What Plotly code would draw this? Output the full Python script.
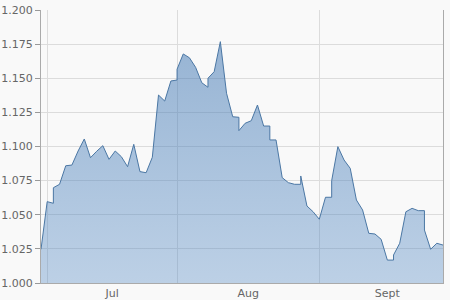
import numpy as np
import plotly.graph_objects as go

# Daily observations (weekend entries carry the value shown just before Monday)
dates = [
    "2016-06-30", "2016-07-01", "2016-07-03", "2016-07-04", "2016-07-05", "2016-07-06",
    "2016-07-07", "2016-07-08", "2016-07-11", "2016-07-12", "2016-07-13", "2016-07-14",
    "2016-07-15", "2016-07-18", "2016-07-19", "2016-07-20", "2016-07-21", "2016-07-22",
    "2016-07-25", "2016-07-26", "2016-07-27", "2016-07-28", "2016-07-29", "2016-07-31",
    "2016-08-01", "2016-08-02", "2016-08-03", "2016-08-04", "2016-08-05", "2016-08-07",
    "2016-08-08", "2016-08-09", "2016-08-10", "2016-08-11", "2016-08-12", "2016-08-14",
    "2016-08-15", "2016-08-16", "2016-08-17", "2016-08-18", "2016-08-19", "2016-08-21",
    "2016-08-22", "2016-08-23", "2016-08-24", "2016-08-25", "2016-08-26", "2016-08-28",
    "2016-08-29", "2016-08-30", "2016-08-31", "2016-09-01", "2016-09-02", "2016-09-04",
    "2016-09-05", "2016-09-06", "2016-09-07", "2016-09-08", "2016-09-09", "2016-09-12",
    "2016-09-13", "2016-09-14", "2016-09-15", "2016-09-16", "2016-09-18", "2016-09-19",
    "2016-09-20", "2016-09-21", "2016-09-22", "2016-09-23", "2016-09-25", "2016-09-26",
    "2016-09-27", "2016-09-28", "2016-09-29",
]
values = [
    1.0247, 1.0596, 1.0584, 1.0698, 1.0723, 1.0859,
    1.0864, 1.0967, 1.1055, 1.0918, 1.0965, 1.1006,
    1.0906, 1.0967, 1.0925, 1.0852, 1.1016, 1.0816,
    1.0808, 1.0921, 1.1377, 1.1333, 1.1480, 1.1487,
    1.1566, 1.1678, 1.1650, 1.1580, 1.1467, 1.1434,
    1.1500, 1.1548, 1.1768, 1.1390, 1.1218, 1.1214,
    1.1116, 1.1170, 1.1189, 1.1304, 1.1150, 1.1150,
    1.1048, 1.1048, 1.0772, 1.0735, 1.0723, 1.0723,
    1.0784, 1.0564, 1.0522, 1.0467, 1.0628, 1.0628,
    1.0750, 1.0999, 1.0901, 1.0840, 1.0608, 1.0535,
    1.0364, 1.0359, 1.0320, 1.0168, 1.0168, 1.0205,
    1.0291, 1.0522, 1.0547, 1.0530, 1.0530, 1.0388,
    1.0247, 1.0291, 1.0278,
]
month_bounds = ["2016-07-01", "2016-08-01", "2016-09-01", "2016-10-01"]
month_labels = ["Jul", "Aug", "Sept"]
y_ticks = [1.000, 1.025, 1.050, 1.075, 1.100, 1.125, 1.150, 1.175, 1.200]

start = np.datetime64(dates[0], "D")
x = np.busday_count(start, np.array(dates, dtype="datetime64[D]"))
bounds = np.busday_count(start, np.array(month_bounds, dtype="datetime64[D]"))
label_pos = [(bounds[i] + bounds[i + 1]) / 2 for i in range(len(month_labels))]
grid_pos = list(bounds[:-1])

bg = "#f9f9f9"
grid = "#dcdcdc"
font = dict(family="DejaVu Sans", size=11, color="#666666")

fig = go.Figure()
fig.add_trace(go.Scatter(
    x=x, y=values, mode="lines",
    line=dict(color="#4b77a4", width=1),
    fill="tozeroy",
    fillgradient=dict(type="vertical", start=y_ticks[0], stop=y_ticks[-1],
                      colorscale=[[0, "rgba(80,135,195,0.36)"], [1, "rgba(60,115,175,0.55)"]]),
    hoverinfo="skip",
))

fig.update_layout(
    width=450, height=300,
    margin=dict(l=41, r=7, t=10, b=17),
    paper_bgcolor=bg, plot_bgcolor=bg,
    showlegend=False,
    font=font,
    xaxis=dict(
        range=[0, int(x[-1])], automargin=False,
        tickmode="array", tickvals=label_pos, ticktext=month_labels,
        showgrid=False, ticks="", ticklen=0,
        showline=True, linecolor="#aaaaaa", linewidth=1,
        tickfont=font, zeroline=False,
        minor=dict(tickmode="array", tickvals=grid_pos, showgrid=True,
                   gridcolor=grid, gridwidth=1, ticks=""),
    ),
    yaxis=dict(
        range=[1.0, 1.2], automargin=False,
        tickmode="array", tickvals=y_ticks, tickformat=".3f",
        showgrid=True, gridcolor=grid, gridwidth=1,
        ticks="outside", ticklen=5, tickcolor="#999999",
        showline=True, linecolor="#aaaaaa", linewidth=1, mirror=True,
        tickfont=font, zeroline=False,
    ),
)

fig.write_html("out.html")
